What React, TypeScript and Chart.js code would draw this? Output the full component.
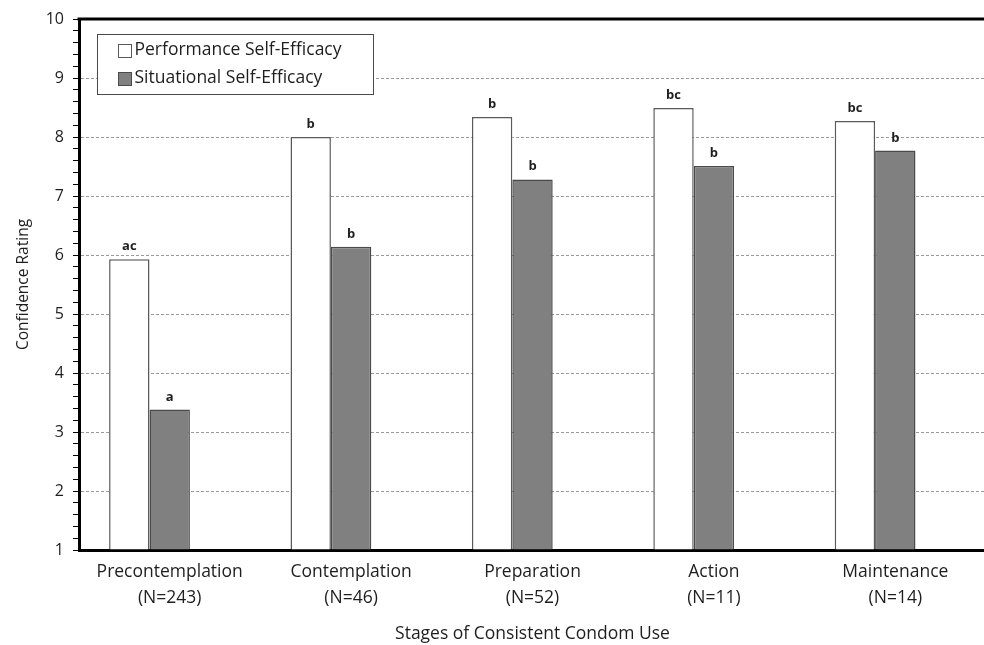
import { useEffect, useRef } from 'react';
import { Chart, registerables } from 'chart.js';

Chart.register(...registerables);

// Stages of change (x categories, two-line labels)
const stages: string[][] = [
  ['Precontemplation', '(N=243)'],
  ['Contemplation', '(N=46)'],
  ['Preparation', '(N=52)'],
  ['Action', '(N=11)'],
  ['Maintenance', '(N=14)'],
];

// Mean confidence ratings per stage
const performanceEfficacy = [5.93, 8.0, 8.34, 8.49, 8.27];
const situationalEfficacy = [3.38, 6.14, 7.28, 7.51, 7.77];

// Significance group letters printed above each bar
const performanceGroups = ['ac', 'b', 'b', 'bc', 'bc'];
const situationalGroups = ['a', 'b', 'b', 'b', 'b'];

// Empty third slot in every category (keeps the pair left of centre)
const spacerSeries: (number | null)[] = [null, null, null, null, null];

// Value axis
const ratingTicks = [1, 2, 3, 4, 5, 6, 7, 8, 9, 10];
const minorDivisions = 5;

const seriesNames = ['Performance Self-Efficacy', 'Situational Self-Efficacy'];
const xTitle = 'Stages of Consistent Condom Use';
const yTitle = 'Confidence Rating';

const FONT = "'Open Sans', 'Noto Sans', sans-serif";
const INK = '#1e1e1e';
const WHITE_FILL = '#ffffff';
const WHITE_EDGE = '#5a5a5a';
const GREY_FILL = '#808080';
const GREY_EDGE = '#4a4a4a';

const yTickValues: number[] = ratingTicks.flatMap((t, i) =>
  i === ratingTicks.length - 1
    ? [t]
    : Array.from({ length: minorDivisions }, (_, k) => Math.round((t + k / minorDivisions) * 1000) / 1000)
);

const isWhole = (v: number) => Math.abs(v - Math.round(v)) < 1e-6;

// Thick frame line along the top of the plot area
const frameTop = {
  id: 'frameTop',
  afterDraw(chart: any) {
    const { ctx, chartArea } = chart;
    ctx.save();
    ctx.strokeStyle = '#000';
    ctx.lineWidth = 3;
    ctx.beginPath();
    ctx.moveTo(chartArea.left - 1.5, chartArea.top);
    ctx.lineTo(chartArea.right, chartArea.top);
    ctx.stroke();
    ctx.restore();
  },
};

// Group letters above the bars
const groupLetters = {
  id: 'groupLetters',
  afterDatasetsDraw(chart: any) {
    const { ctx } = chart;
    const letterSets = [performanceGroups, situationalGroups];
    ctx.save();
    ctx.font = `bold 13px ${FONT}`;
    ctx.fillStyle = INK;
    ctx.textAlign = 'center';
    ctx.textBaseline = 'alphabetic';
    letterSets.forEach((letters, di) => {
      const meta = chart.getDatasetMeta(di);
      meta.data.forEach((bar: any, i: number) => {
        ctx.fillText(letters[i], bar.x, bar.y - 9);
      });
    });
    ctx.restore();
  },
};

// Boxed legend in the upper-left corner of the plot area
const boxedLegend = {
  id: 'boxedLegend',
  afterDraw(chart: any) {
    const { ctx, chartArea } = chart;
    const left = Math.round(chartArea.left + 18) + 0.5;
    const top = Math.round(chartArea.top + 15) + 0.5;
    const width = 276;
    const height = 60;
    ctx.save();
    ctx.fillStyle = '#ffffff';
    ctx.fillRect(left, top, width, height);
    ctx.strokeStyle = '#4a4a4a';
    ctx.lineWidth = 1;
    ctx.strokeRect(left, top, width, height);

    const rows = [top + 16, top + 43.5];
    ctx.font = `17.5px ${FONT}`;
    ctx.textBaseline = 'middle';
    ctx.textAlign = 'left';
    chart.data.datasets.slice(0, 2).forEach((ds: any, i: number) => {
      const cy = rows[i];
      const size = 13;
      const mx = left + 21;
      const my = Math.round(cy - size / 2) + 0.5;
      ctx.fillStyle = ds.backgroundColor;
      ctx.fillRect(mx, my, size, size);
      ctx.strokeStyle = ds.borderColor;
      ctx.lineWidth = 1;
      ctx.strokeRect(mx, my, size, size);
      ctx.fillStyle = INK;
      ctx.fillText(ds.label, mx + size + 3, cy);
    });
    ctx.restore();
  },
};

export default function App() {
  const canvasRef = useRef<HTMLCanvasElement | null>(null);

  useEffect(() => {
    const canvas = canvasRef.current;
    if (!canvas) return;

    const chart = new Chart(canvas, {
      type: 'bar',
      data: {
        labels: stages,
        datasets: [
          {
            label: seriesNames[0],
            data: performanceEfficacy,
            backgroundColor: WHITE_FILL,
            borderColor: WHITE_EDGE,
            borderWidth: 1.5,
            base: 1,
          },
          {
            label: seriesNames[1],
            data: situationalEfficacy,
            backgroundColor: GREY_FILL,
            borderColor: GREY_EDGE,
            borderWidth: 1.5,
            base: 1,
          },
          {
            label: '',
            data: spacerSeries,
            backgroundColor: 'rgba(0,0,0,0)',
            borderWidth: 0,
            base: 1,
          },
        ],
      },
      options: {
        responsive: false,
        animation: false,
        events: [],
        layout: { padding: { top: 19, left: 0, right: 0, bottom: 0 } },
        datasets: {
          bar: { categoryPercentage: 0.668, barPercentage: 1 },
        },
        plugins: {
          legend: { display: false },
          tooltip: { enabled: false },
          title: { display: false },
        },
        scales: {
          x: {
            type: 'category',
            afterFit: (s: any) => {
              s.height = 95;
            },
            grid: { display: false, drawTicks: false },
            border: { display: true, color: '#000', width: 3 },
            ticks: {
              autoSkip: false,
              maxRotation: 0,
              minRotation: 0,
              padding: 9,
              color: INK,
              font: { family: FONT, size: 17.5, lineHeight: '26px' },
            },
            title: {
              display: true,
              text: xTitle,
              color: INK,
              font: { family: FONT, size: 17.5, lineHeight: '22px' },
              padding: { top: 0, bottom: 0 },
            },
          },
          y: {
            type: 'linear',
            min: 1,
            max: 10,
            afterFit: (s: any) => {
              s.width = 79;
            },
            afterBuildTicks: (s: any) => {
              s.ticks = yTickValues.map((v) => ({ value: v }));
            },
            grid: {
              drawOnChartArea: true,
              drawTicks: true,
              tickLength: 6,
              tickWidth: 1,
              tickColor: '#000',
              lineWidth: 1,
              color: (c: any) => {
                const v = c.tick ? c.tick.value : NaN;
                return isWhole(v) && v > 1 && v < 10 ? '#9a9a9a' : 'rgba(0,0,0,0)';
              },
            },
            border: { display: true, color: '#000', width: 3, dash: [3, 2] },
            ticks: {
              autoSkip: false,
              padding: 9,
              color: INK,
              font: { family: FONT, size: 16 },
              callback: (v: any) => (isWhole(Number(v)) ? String(Math.round(Number(v))) : ''),
            },
            title: {
              display: true,
              text: yTitle,
              color: INK,
              font: { family: FONT, size: 15.5, lineHeight: '19px' },
              padding: { top: 14.5, bottom: 0 },
            },
          },
        },
      },
      plugins: [frameTop, groupLetters, boxedLegend],
    } as any);

    return () => chart.destroy();
  }, []);

  return (
    <div
      style={{
        position: 'absolute',
        left: 0,
        top: 0,
        width: 984,
        height: 645,
        overflow: 'hidden',
        background: '#ffffff',
      }}
    >
      <canvas ref={canvasRef} width={986} height={645} style={{ display: 'block', width: 986, height: 645 }} />
    </div>
  );
}
